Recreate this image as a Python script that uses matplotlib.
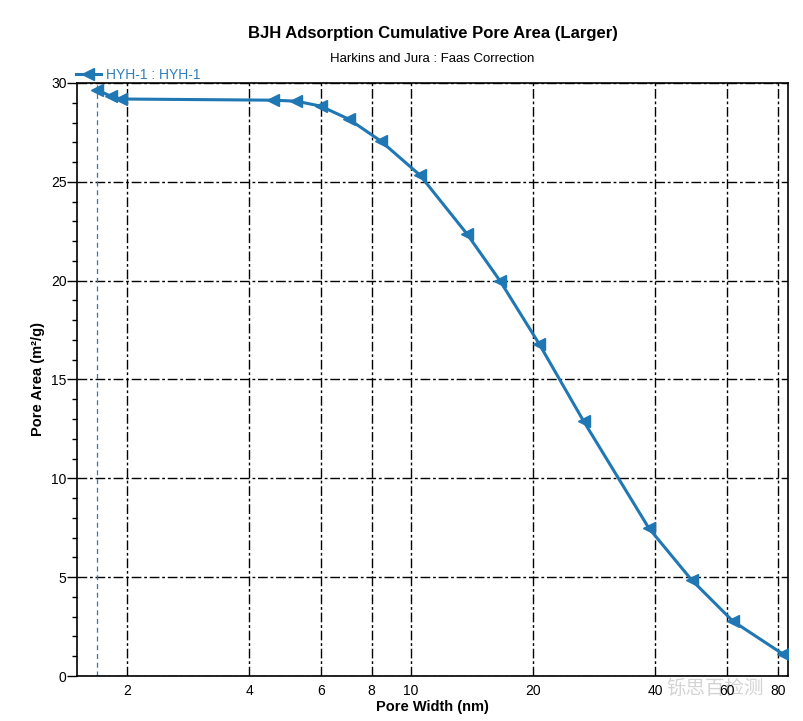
import numpy as np
import matplotlib
matplotlib.use('Agg')
import matplotlib.pyplot as plt
from matplotlib.ticker import FixedLocator, MultipleLocator, NullLocator
from matplotlib.lines import Line2D

# data (pore width in nm, cumulative pore area in m2/g)
pore_width = [1.69, 1.82, 1.93, 4.56, 5.22, 5.99, 7.03, 8.43, 10.52,
              13.74, 16.58, 20.7, 26.6, 38.5, 49.1, 62.0, 82.4]
pore_area = [29.64, 29.34, 29.19, 29.13, 29.08, 28.83, 28.17, 27.06, 25.34,
             22.36, 19.98, 16.79, 12.9, 7.49, 4.86, 2.78, 1.11]

x_ticks = [2, 4, 6, 8, 10, 20, 40, 60, 80]
y_ticks = [0, 5, 10, 15, 20, 25, 30]
series_name = 'HYH-1 : HYH-1'
blue = '#1f77b4'

plt.rcParams['font.family'] = ['Liberation Sans', 'DejaVu Sans']


def main():
    fig = plt.figure(figsize=(8.04, 7.21), dpi=100)
    ax = fig.add_axes([0.0958, 0.0624, 0.884, 0.8225])

    ax.set_xscale('log')
    ax.set_xlim(1.505, 84.7)
    ax.set_ylim(0, 30)

    ax.plot(pore_width, pore_area, color=blue, lw=2.2, marker='<', ms=9, zorder=3)
    ax.axvline(pore_width[0], color='#3a78a8', lw=0.9, ls=(0, (4, 3)), zorder=2)

    ax.xaxis.set_major_locator(FixedLocator(x_ticks))
    ax.xaxis.set_minor_locator(NullLocator())
    ax.set_xticklabels([str(t) for t in x_ticks])
    ax.yaxis.set_major_locator(FixedLocator(y_ticks))
    ax.yaxis.set_minor_locator(MultipleLocator(1))
    ax.tick_params(axis='x', length=0, pad=6, labelsize=10)
    ax.tick_params(axis='y', which='major', length=7, width=1, direction='out', labelsize=10, pad=0.5)
    ax.tick_params(axis='y', which='minor', length=3.5, width=1, direction='out')

    ax.grid(True, which='major', color='black', lw=1.0, ls=(0, (7, 2, 2, 2)))
    ax.set_axisbelow(True)
    for s in ax.spines.values():
        s.set_linewidth(1.2)

    ax.set_xlabel('Pore Width (nm)', fontsize=10.5, fontweight='bold', labelpad=1)
    ax.set_ylabel('Pore Area (m\u00b2/g)', fontsize=10.5, fontweight='bold', labelpad=4)

    fig.text(0.538, 0.954, 'BJH Adsorption Cumulative Pore Area (Larger)',
             ha='center', va='center', fontsize=12, fontweight='bold')
    fig.text(0.538, 0.918, 'Harkins and Jura : Faas Correction',
             ha='center', va='center', fontsize=9.5)

    # legend above the axes, top-left
    h = Line2D([0], [0], color=blue, lw=2.2, marker='<', ms=9, markevery=[0])
    leg = fig.legend([h], [series_name], loc='center left', bbox_to_anchor=(0.094, 0.896),
                     frameon=False, fontsize=10, handlelength=1.8, handletextpad=0.4,
                     borderaxespad=0, borderpad=0)
    for t in leg.get_texts():
        t.set_color('#2f7fbf')

    fig.text(0.89, 0.045, '\u94c4\u601d\u767e\u68c0\u6d4b', ha='center', va='center',
             fontsize=14, color='#c8c8c8', alpha=0.8,
             family=['Noto Sans CJK SC', 'DejaVu Sans'], zorder=-1)

    fig.savefig('out.png', dpi=100)


if __name__ == '__main__':
    main()
